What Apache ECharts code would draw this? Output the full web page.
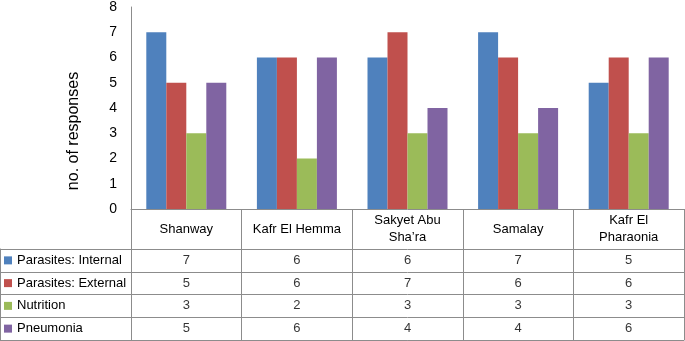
<!DOCTYPE html>
<html>
<head>
<meta charset="utf-8">
<script src="https://cdn.jsdelivr.net/npm/echarts@6/dist/echarts.min.js"></script>
<style>
  html, body { margin: 0; padding: 0; background: #fff; }
  #chart { width: 685px; height: 341px; }
</style>
</head>
<body>
<div id="chart"></div>
<script>
// 数据
var villages = ["Shanway", "Kafr El Hemma", "Sakyet Abu\nSha\u2019ra", "Samalay", "Kafr El\nPharaonia"];
var seriesNames = ["Parasites: Internal", "Parasites: External", "Nutrition", "Pneumonia"];
var internal = [7, 6, 6, 7, 5];
var external = [5, 6, 7, 6, 6];
var nutrition = [3, 2, 3, 3, 3];
var pneumonia = [5, 6, 4, 4, 6];
var yTicks = [0, 1, 2, 3, 4, 5, 6, 7, 8];

var colors = ["#4F81BD", "#C0504D", "#9BBB59", "#8064A2"];
var allValues = [internal, external, nutrition, pneumonia];
var lineColor = "#8c8c8c";
var fontFamily = "Liberation Sans";

var chart = echarts.init(document.getElementById("chart"));

// 表格单元格数据
var cellData = [];
allValues.forEach(function (vals, row) {
  vals.forEach(function (v, col) {
    cellData.push([col, row, v]);
  });
});

var rich = {};
colors.forEach(function (c, i) {
  rich["s" + i] = { backgroundColor: c, width: 8, height: 8 };
});
rich.t = { fontSize: 13, fontFamily: fontFamily, color: "#000", padding: [0, 0, 0, 5] };

var series = allValues.map(function (vals, i) {
  return {
    name: seriesNames[i],
    type: "bar",
    xAxisIndex: 0,
    yAxisIndex: 0,
    barWidth: 20,
    barGap: "0%",
    itemStyle: { color: colors[i] },
    data: vals,
  };
});
series.push({
  type: "scatter",
  xAxisIndex: 1,
  yAxisIndex: 1,
  symbolSize: 0,
  silent: true,
  label: {
    show: true,
    position: "inside",
    color: "#000",
    fontSize: 13,
    fontFamily: fontFamily,
    formatter: function (p) {
      return p.value[2];
    },
  },
  data: cellData,
});

var option = {
  animation: false,
  grid: [
    { left: 131, right: 1, top: 5, height: 204 },
    { left: 131, right: 1, top: 249, height: 91 },
  ],
  xAxis: [
    {
      type: "category",
      gridIndex: 0,
      data: villages,
      axisLine: { show: true, lineStyle: { color: lineColor } },
      axisTick: { show: true, length: 40, interval: 0, lineStyle: { color: lineColor } },
      axisLabel: {
        interval: 0,
        margin: 20,
        verticalAlign: "middle",
        lineHeight: 17,
        fontSize: 13,
        fontFamily: fontFamily,
        color: "#000",
      },
      splitLine: { show: false },
    },
    {
      type: "category",
      gridIndex: 1,
      data: villages,
      axisLine: { show: true, lineStyle: { color: lineColor } },
      axisTick: { show: false },
      axisLabel: { show: false },
      splitLine: { show: true, interval: 0, lineStyle: { color: lineColor } },
    },
  ],
  yAxis: [
    {
      type: "value",
      gridIndex: 0,
      min: 0,
      max: 8,
      interval: 1,
      axisLine: { show: true, lineStyle: { color: lineColor } },
      axisTick: { show: false },
      splitLine: { show: false },
      axisLabel: {
        margin: 14,
        fontSize: 14,
        fontFamily: fontFamily,
        color: "#000",
        formatter: function (v) {
          return yTicks.indexOf(v) >= 0 ? String(v) : "";
        },
      },
    },
    {
      type: "category",
      gridIndex: 1,
      inverse: true,
      data: seriesNames,
      axisLine: { show: true, lineStyle: { color: lineColor } },
      axisTick: { show: true, length: 131, interval: 0, lineStyle: { color: lineColor } },
      splitLine: { show: true, interval: 0, lineStyle: { color: lineColor } },
      axisLabel: {
        interval: 0,
        align: "left",
        margin: 127,
        formatter: function (v, i) {
          return "{s" + i + "|}{t|" + v + "}";
        },
        rich: rich,
      },
    },
    {
      type: "category",
      gridIndex: 1,
      position: "left",
      offset: 131,
      data: seriesNames,
      axisLine: { show: true, lineStyle: { color: lineColor } },
      axisTick: { show: false },
      axisLabel: { show: false },
      splitLine: { show: false },
    },
  ],
  graphic: [
    {
      type: "text",
      x: 74,
      y: 131,
      rotation: Math.PI / 2,
      style: {
        text: "no. of responses",
        fontSize: 16,
        fontFamily: fontFamily,
        fill: "#000",
        align: "center",
        verticalAlign: "middle",
      },
    },
  ],
  series: series,
};

chart.setOption(option);
</script>
</body>
</html>
